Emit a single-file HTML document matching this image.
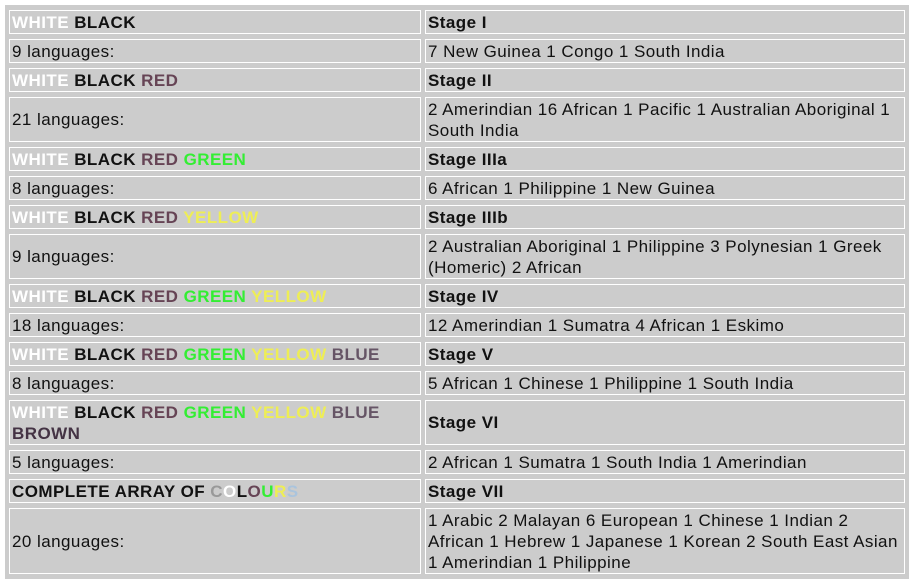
<!DOCTYPE html>
<html><head><meta charset="utf-8">
<style>
body{margin:0;background:#fff;width:911px;height:584px;overflow:hidden;}
table{position:absolute;left:5px;top:5px;width:904px;table-layout:fixed;border-collapse:separate;border-spacing:4px 5px;background:#ccc;font-family:"Liberation Sans",Arial,sans-serif;font-size:17px;letter-spacing:0.45px;line-height:21px;color:#111;}
td{border:1px solid #fff;padding:0.5px 2px;vertical-align:middle;background:#ccc;}
b{font-weight:bold}
.w{color:#fff}.k{color:#111}.r{color:#664455}.g{color:#33ee33}.y{color:#eeee55}.bl{color:#665566}.br{color:#443344}.gr{color:#999}
</style></head><body>
<table>
<colgroup><col style="width:412px"><col></colgroup>
<tr><td><b><span class="w">WHITE</span> BLACK</b></td><td><b>Stage I</b></td></tr>
<tr><td>9 languages:</td><td>7 New Guinea 1 Congo 1 South India</td></tr>
<tr><td><b><span class="w">WHITE</span> BLACK <span class="r">RED</span></b></td><td><b>Stage II</b></td></tr>
<tr><td>21 languages:</td><td>2 Amerindian 16 African 1 Pacific 1 Australian Aboriginal 1 South India</td></tr>
<tr><td><b><span class="w">WHITE</span> BLACK <span class="r">RED</span> <span class="g">GREEN</span></b></td><td><b>Stage IIIa</b></td></tr>
<tr><td>8 languages:</td><td>6 African 1 Philippine 1 New Guinea</td></tr>
<tr><td><b><span class="w">WHITE</span> BLACK <span class="r">RED</span> <span class="y">YELLOW</span></b></td><td><b>Stage IIIb</b></td></tr>
<tr><td>9 languages:</td><td>2 Australian Aboriginal 1 Philippine 3 Polynesian 1 Greek (Homeric) 2 African</td></tr>
<tr><td><b><span class="w">WHITE</span> BLACK <span class="r">RED</span> <span class="g">GREEN</span> <span class="y">YELLOW</span></b></td><td><b>Stage IV</b></td></tr>
<tr><td>18 languages:</td><td>12 Amerindian 1 Sumatra 4 African 1 Eskimo</td></tr>
<tr><td><b><span class="w">WHITE</span> BLACK <span class="r">RED</span> <span class="g">GREEN</span> <span class="y">YELLOW</span> <span class="bl">BLUE</span></b></td><td><b>Stage V</b></td></tr>
<tr><td>8 languages:</td><td>5 African 1 Chinese 1 Philippine 1 South India</td></tr>
<tr><td><b><span class="w">WHITE</span> BLACK <span class="r">RED</span> <span class="g">GREEN</span> <span class="y">YELLOW</span> <span class="bl">BLUE</span><br><span class="br">BROWN</span></b></td><td><b>Stage VI</b></td></tr>
<tr><td>5 languages:</td><td>2 African 1 Sumatra 1 South India 1 Amerindian</td></tr>
<tr><td><b>COMPLETE ARRAY OF <span class="gr">C</span><span class="w">O</span><span class="k">L</span><span class="r">O</span><span class="g">U</span><span class="y">R</span><span style="color:#aac4dd">S</span></b></td><td><b>Stage VII</b></td></tr>
<tr><td>20 languages:</td><td>1 Arabic 2 Malayan 6 European 1 Chinese 1 Indian 2 African 1 Hebrew 1 Japanese 1 Korean 2 South East Asian 1 Amerindian 1 Philippine</td></tr>
</table>
</body></html>
